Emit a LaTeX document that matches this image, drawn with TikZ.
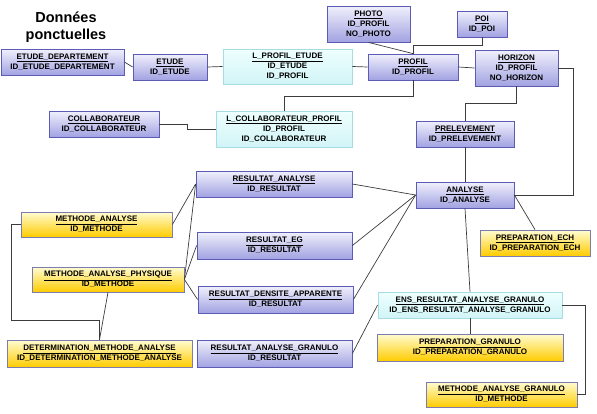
\documentclass[tikz,border=0pt]{standalone}
\usepackage{fontspec}
\setmainfont{Liberation Sans}
\usetikzlibrary{shadows}
\definecolor{bordbleu}{HTML}{5C5CB4}
\definecolor{hautbleu}{HTML}{F0F0FC}
\definecolor{basbleu}{HTML}{A2A2E2}
\definecolor{bordjaune}{HTML}{7C7CB0}
\definecolor{hautjaune}{HTML}{FFFCD2}
\definecolor{basjaune}{HTML}{FFCC00}
\definecolor{bordassoc}{HTML}{A6DCE4}
\definecolor{hautassoc}{HTML}{EEFFFF}
\definecolor{basassoc}{HTML}{D2F4F6}
\definecolor{trait}{HTML}{3C3C3C}
\begin{document}
\begin{tikzpicture}[
    x=1pt, y=-1pt,
    every node/.style={font=\bfseries\fontsize{8}{10}\selectfont, align=center, inner sep=0pt},
    table/.style={rectangle, line width=0.8pt,
      drop shadow={shadow xshift=1.2pt, shadow yshift=-1.2pt, opacity=0.25, fill=black}},
    bleu/.style={table, draw=bordbleu, top color=hautbleu, bottom color=basbleu},
    jaune/.style={table, draw=bordjaune, top color=hautjaune, middle color=yellow, bottom color=basjaune},
    assoc/.style={table, draw=bordassoc, top color=hautassoc, bottom color=basassoc},
    lien/.style={draw=trait, line width=0.7pt}]
    \useasboundingbox (0,0) rectangle (597,413);
    \node [font=\bfseries\fontsize{14.5}{17.5}\selectfont] (titre) at (66,27) {Données\\ponctuelles};
    % partie haute
    \node [bleu, minimum width=123pt, minimum height=26pt] (etudedep) at (62.5,62) {\underline{ETUDE\_DEPARTEMENT}\\ID\_ETUDE\_DEPARTEMENT};
    \node [bleu, minimum width=74pt, minimum height=26pt] (etude) at (170,67) {\underline{ETUDE}\\ID\_ETUDE};
    \node [assoc, minimum width=129pt, minimum height=35pt] (lprofiletude) at (287.5,66.5) {\underline{L\_PROFIL\_ETUDE}\\ID\_ETUDE\\ID\_PROFIL};
    \node [bleu, minimum width=110pt, minimum height=26pt] (collab) at (104,124) {\underline{COLLABORATEUR}\\ID\_COLLABORATEUR};
    \node [assoc, minimum width=136pt, minimum height=36pt] (lcollabprofil) at (284,129) {\underline{L\_COLLABORATEUR\_PROFIL}\\ID\_PROFIL\\ID\_COLLABORATEUR};
    \node [bleu, minimum width=83pt, minimum height=36pt] (photo) at (368.5,24) {\underline{PHOTO}\\ID\_PROFIL\\NO\_PHOTO};
    \node [bleu, minimum width=50pt, minimum height=26pt] (poi) at (482,24) {\underline{POI}\\ID\_POI};
    \node [bleu, minimum width=90pt, minimum height=26pt] (profil) at (413,67) {\underline{PROFIL}\\ID\_PROFIL};
    \node [bleu, minimum width=83pt, minimum height=36pt] (horizon) at (516.5,68) {\underline{HORIZON}\\ID\_PROFIL\\NO\_HORIZON};
    \node [bleu, minimum width=98pt, minimum height=26pt] (prelevement) at (465,134) {\underline{PRELEVEMENT}\\ID\_PRELEVEMENT};
    \node [bleu, minimum width=98pt, minimum height=26pt] (analyse) at (465,195) {\underline{ANALYSE}\\ID\_ANALYSE};
    \node [jaune, minimum width=110pt, minimum height=26pt] (prepech) at (535,243) {\underline{PREPARATION\_ECH}\\ID\_PREPARATION\_ECH};
    % resultats
    \node [bleu, minimum width=156pt, minimum height=26pt] (resanalyse) at (274,184) {\underline{RESULTAT\_ANALYSE}\\ID\_RESULTAT};
    \node [bleu, minimum width=155pt, minimum height=27pt] (reseg) at (274.5,245.5) {\underline{RESULTAT\_EG}\\ID\_RESULTAT};
    \node [bleu, minimum width=155pt, minimum height=27pt] (resdensite) at (275.5,299.5) {\underline{RESULTAT\_DENSITE\_APPARENTE}\\ID\_RESULTAT};
    \node [bleu, minimum width=155pt, minimum height=27pt] (resgranulo) at (274.5,353.5) {\underline{RESULTAT\_ANALYSE\_GRANULO}\\ID\_RESULTAT};
    \node [assoc, minimum width=184pt, minimum height=26pt] (ensgranulo) at (470,305) {\underline{ENS\_RESULTAT\_ANALYSE\_GRANULO}\\ID\_ENS\_RESULTAT\_ANALYSE\_GRANULO};
    \node [jaune, minimum width=186pt, minimum height=27pt] (prepgranulo) at (470,347.5) {\underline{PREPARATION\_GRANULO}\\ID\_PREPARATION\_GRANULO};
    \node [jaune, minimum width=151pt, minimum height=25pt] (methgranulo) at (501.5,394.5) {\underline{METHODE\_ANALYSE\_GRANULO}\\ID\_METHODE};
    % methodes
    \node [jaune, minimum width=151pt, minimum height=25pt] (methanalyse) at (96.5,224.5) {\underline{METHODE\_ANALYSE}\\ID\_METHODE};
    \node [jaune, minimum width=152pt, minimum height=25pt] (methphysique) at (108,279.5) {\underline{METHODE\_ANALYSE\_PHYSIQUE}\\ID\_METHODE};
    \node [jaune, minimum width=185pt, minimum height=27pt] (determination) at (99.5,353.5) {\underline{DETERMINATION\_METHODE\_ANALYSE}\\ID\_DETERMINATION\_METHODE\_ANALYSE};
    % liens
    \draw [lien] (etudedep.east) -- (etude.west);
    \draw [lien] (etude.east) -- (lprofiletude.west);
    \draw [lien] (lprofiletude.east) -- (profil.west);
    \draw [lien] (photo.south) -- (profil.north);
    \draw [lien] (poi.south) -- ++(0,8) -| (profil.north);
    \draw [lien] (profil.east) -- (horizon.west);
    \draw [lien] (profil.south) -- ++(0,16) -| (lcollabprofil.north);
    \draw [lien] (collab.east) -- ++(28,0) |- (lcollabprofil.west);
    \draw [lien] (horizon.south) -- ++(0,17) -| (prelevement.north);
    \draw [lien] (horizon.east) -- ++(15,0) |- (analyse.east);
    \draw [lien] (prelevement.south) -- (analyse.north);
    \draw [lien] (analyse.east) -- (prepech.north);
    \draw [lien] (analyse.south) -- (ensgranulo.north);
    \draw [lien] (resanalyse.east) -- (analyse.west);
    \draw [lien] (reseg.east) -- (analyse.west);
    \draw [lien] (resdensite.east) -- (analyse.west);
    \draw [lien] (resgranulo.east) -- (ensgranulo.west);
    \draw [lien] (ensgranulo.south) -- (prepgranulo.north);
    \draw [lien] (ensgranulo.east) -- ++(23,0) |- (methgranulo.east);
    \draw [lien] (methanalyse.east) -- (resanalyse.west);
    \draw [lien] (methphysique.east) -- (resanalyse.west);
    \draw [lien] (methphysique.east) -- (reseg.west);
    \draw [lien] (methphysique.east) -- (resdensite.west);
    \draw [lien] (methanalyse.west) -- ++(-9,0) |- ([yshift=19pt]determination.north) -- (determination.north);
    \draw [lien] (methphysique.south) -- (determination.north);
  \end{tikzpicture}
\end{document}
